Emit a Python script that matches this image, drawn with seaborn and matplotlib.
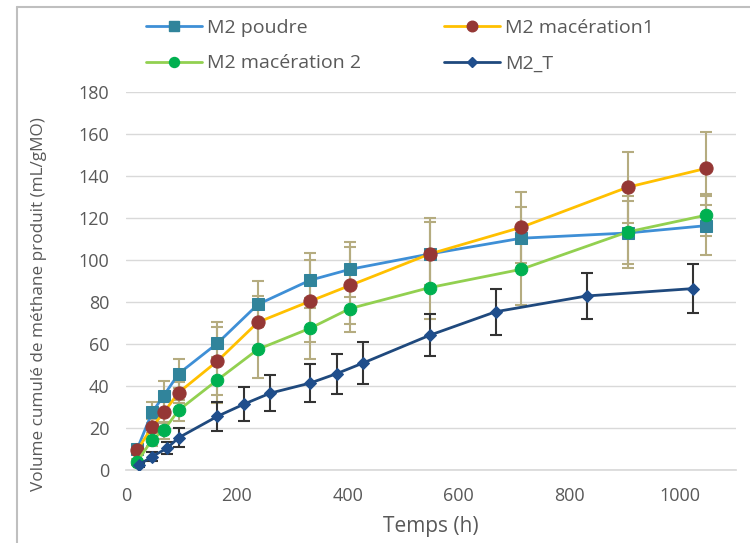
import numpy as np
import pandas as pd
import matplotlib
matplotlib.use("Agg")
import matplotlib.pyplot as plt
import seaborn as sns
from matplotlib.lines import Line2D

# --------------------------------------------------------------------------- #
# Data
# --------------------------------------------------------------------------- #
t_main = [20, 47, 68, 95, 165, 238, 332, 404, 548, 713, 905, 1047]
poudre = [10, 27.5, 35.5, 46, 60.5, 79, 90.5, 95.7, 103, 110.5, 113, 116.5]
poudre_err = [2, 5, 7, 7, 10, 11, 13, 13, 15, 15, 15, 14]
mac1 = [9.5, 20.5, 27.5, 37, 52, 70.5, 80.5, 88, 103, 115.7, 134.8, 143.8]
mac1_err = [2, 4, 5, 5, 16, 12.5, 19.5, 18.5, 17, 17, 17, 17.5]
mac2 = [4, 14.5, 19, 28.6, 43, 57.6, 67.6, 77, 87, 95.7, 113.5, 121.5]
mac2_err = [1.5, 3, 4, 5, 11, 13.6, 14.6, 11, 15, 17, 17, 10]

t_T = [23, 47, 74, 95, 165, 213, 260, 332, 380, 427, 548, 667, 831, 1022]
m2t = [2.5, 6.5, 10.5, 15.5, 25.7, 31.5, 36.7, 41.5, 46, 51, 64.3, 75.5, 83, 86.5]
m2t_err = [1, 2, 3, 4.5, 7, 8, 8.5, 9, 9.5, 10, 10, 11, 11, 11.5]

x_ticks = [0, 200, 400, 600, 800, 1000]
y_ticks = list(range(0, 181, 20))

series = [
    # label, x, y, err, line colour, marker colour, marker, size, err colour
    ("M2 poudre", t_main, poudre, poudre_err, "#3E8FD6", "#31849B", "s", 9, "#B5AC80"),
    ("M2 macération1", t_main, mac1, mac1_err, "#FFC000", "#953735", "o", 9.5, "#B5AC80"),
    ("M2 macération 2", t_main, mac2, mac2_err, "#92D050", "#00B050", "o", 9, "#B5AC80"),
    ("M2_T", t_T, m2t, m2t_err, "#1F497D", "#1F4E8C", "D", 6.5, "#333333"),
]

GREY = "#595959"

# --------------------------------------------------------------------------- #
# Plot
# --------------------------------------------------------------------------- #
sns.set_theme(style="white")
plt.rcParams["font.family"] = ["Open Sans", "DejaVu Sans"]

fig = plt.figure(figsize=(7.5, 5.43), dpi=100)
ax = fig.add_axes([0.168, 0.134, 0.813, 0.696])

handles = []
for label, xs, ys, errs, lc, mc, mk, ms, ec in series:
    df = pd.DataFrame({"t": xs, "v": ys})
    ax.errorbar(xs, ys, yerr=errs, fmt="none", ecolor=ec, elinewidth=1.5,
                capsize=4, capthick=1.5, zorder=2)
    sns.lineplot(data=df, x="t", y="v", ax=ax, color=lc, linewidth=2,
                 marker=mk, markersize=ms, markerfacecolor=mc,
                 markeredgecolor=mc, zorder=3, legend=False)
    handles.append(Line2D([0], [0], color=lc, linewidth=2, marker=mk,
                          markersize=ms * 0.8, markerfacecolor=mc,
                          markeredgecolor=mc, label=label))

ax.set_xlim(0, 1100)
ax.set_ylim(0, 180)
ax.set_xticks(x_ticks)
ax.set_yticks(y_ticks)
ax.yaxis.grid(True, color="#D9D9D9", linewidth=1)
ax.set_axisbelow(True)
for side in ["top", "right", "left"]:
    ax.spines[side].set_visible(False)
ax.spines["bottom"].set_color("#D9D9D9")
ax.tick_params(axis="both", colors=GREY, labelsize=13, length=0)
ax.tick_params(axis="y", pad=12)
ax.tick_params(axis="x", pad=12)
ax.set_xlabel("Temps (h)", fontsize=15, color=GREY, labelpad=8)
ax.set_ylabel("Volume cumulé de méthane produit (mL/gMO)", fontsize=12.3,
              color=GREY)
ax.yaxis.set_label_coords(-0.129, 0.44)

order = [handles[0], handles[2], handles[1], handles[3]]
fig.legend(handles=order, labels=[h.get_label() for h in order], ncol=2,
           loc="upper left", bbox_to_anchor=(0.182, 0.983), frameon=False,
           borderpad=0, fontsize=14, handlelength=2.85, handletextpad=0.3,
           columnspacing=4.25, labelspacing=0.9, labelcolor=GREY)

# chart border (left and top edges visible in the crop)
fig.add_artist(Line2D([0.0227, 0.0227], [0, 0.987], color="#BFBFBF", linewidth=1.5,
                      transform=fig.transFigure))
fig.add_artist(Line2D([0.0227, 1.0], [0.987, 0.987], color="#BFBFBF", linewidth=1.5,
                      transform=fig.transFigure))

fig.savefig("out.png", dpi=100)
